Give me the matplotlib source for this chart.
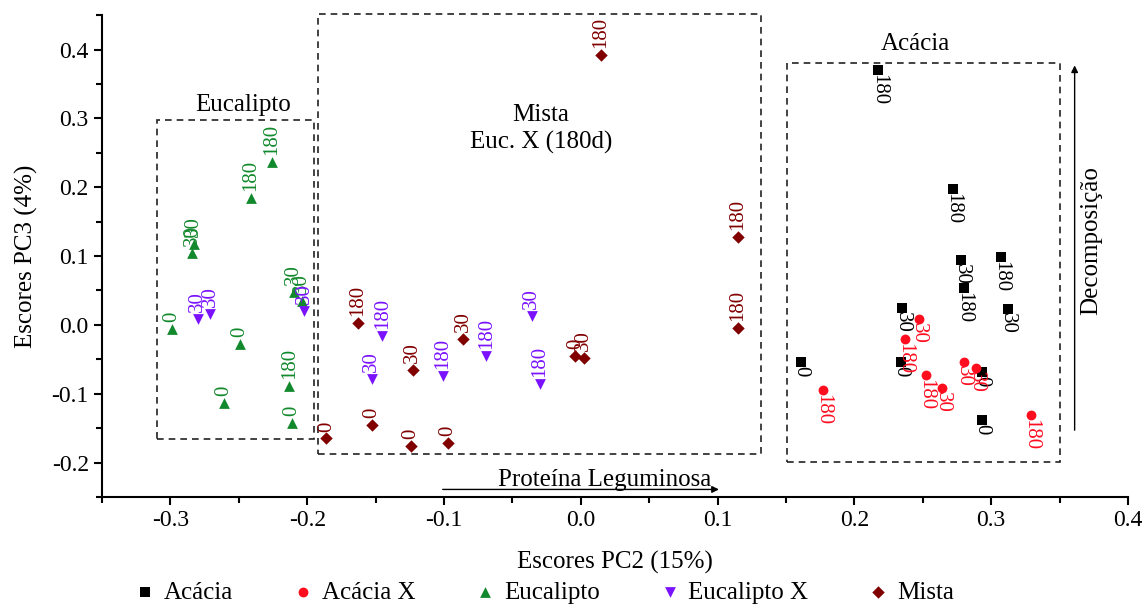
import numpy as np
import matplotlib
matplotlib.use('Agg')
import matplotlib.pyplot as plt
from matplotlib.patches import Rectangle
from matplotlib.ticker import MultipleLocator

plt.rcParams['font.family'] = ['Liberation Serif', 'DejaVu Serif']

## scores (PC2, PC3) and day labels
ac_x = [0.2175, 0.272, 0.278, 0.280, 0.307, 0.312, 0.235, 0.161, 0.234, 0.293, 0.293]
ac_y = [0.370, 0.198, 0.095, 0.054, 0.099, 0.023, 0.025, -0.054, -0.054, -0.068, -0.138]
ac_lab = ['180', '180', '30', '180', '180', '30', '30', '0', '0', '0', '0']

acx_x = [0.247, 0.237, 0.177, 0.252, 0.264, 0.280, 0.289, 0.329]
acx_y = [0.009, -0.020, -0.095, -0.073, -0.092, -0.054, -0.063, -0.131]
acx_lab = ['30', '180', '180', '180', '30', '30', '30', '180']

eu_x = [-0.283, -0.284, -0.241, -0.226, -0.299, -0.249, -0.261, -0.213, -0.211, -0.210, -0.204]
eu_y = [0.118, 0.104, 0.185, 0.236, -0.006, -0.028, -0.114, -0.089, -0.143, 0.048, 0.035]
eu_lab = ['30', '30', '180', '180', '0', '0', '0', '180', '0', '30', '30']

eux_x = [-0.280, -0.271, -0.202, -0.153, -0.145, -0.101, -0.069, -0.036, -0.030]
eux_y = [0.009, 0.016, 0.020, -0.079, -0.016, -0.074, -0.045, 0.013, -0.086]
eux_lab = ['30', '30', '30', '30', '180', '180', '180', '30', '180']

mi_x = [-0.186, -0.163, -0.153, -0.123, -0.124, -0.097, -0.086, -0.004, 0.002, 0.115, 0.115, 0.0146]
mi_y = [-0.165, 0.003, -0.146, -0.066, -0.176, -0.172, -0.020, -0.045, -0.048, -0.004, 0.128, 0.392]
mi_lab = ['0', '180', '0', '30', '0', '0', '30', '0', '30', '180', '180', '180']

fig = plt.figure(figsize=(11.44, 6.05), dpi=100)
ax = fig.add_axes([0.0892, 0.1785, 0.8968, 0.7965])

# (x, y, labels, name, marker, color, size, label goes up?)
series = [
    (ac_x, ac_y, ac_lab, 'Acácia', 's', 'black', 45, False),
    (acx_x, acx_y, acx_lab, 'Acácia X', 'o', '#ff0d1f', 50, False),
    (eu_x, eu_y, eu_lab, 'Eucalipto', '^', '#12892c', 60, True),
    (eux_x, eux_y, eux_lab, 'Eucalipto X', 'v', '#7a12ff', 60, True),
    (mi_x, mi_y, mi_lab, 'Mista', 'D', '#800000', 40, True),
]

for xs, ys, labs, name, mk, col, sz, up in series:
    ax.scatter(xs, ys, marker=mk, s=sz, color=col, linewidths=0, label=name, zorder=3)
    for x, y, t in zip(xs, ys, labs):
        if up:
            ax.annotate(t, (x, y), xytext=(0, 5), textcoords='offset points',
                        rotation=90, ha='center', va='bottom', color=col, fontsize=15)
        else:
            ax.annotate(t, (x, y), xytext=(0, -3), textcoords='offset points',
                        rotation=270, ha='center', va='top', color=col, fontsize=15)

# dashed group boxes
boxes = [(-0.3095, -0.166, 0.1145, 0.463),
         (-0.192, -0.188, 0.324, 0.639),
         (0.151, -0.199, 0.199, 0.579)]
for bx, by, bw, bh in boxes:
    ax.add_patch(Rectangle((bx, by), bw, bh, fill=False, ec='#222222', lw=1.2,
                           ls=(0, (4, 3)), clip_on=False, zorder=2))

ax.text(-0.247, 0.319, 'Eucalipto', ha='center', va='center', fontsize=18)
ax.text(-0.029, 0.285, 'Mista\nEuc. X (180d)', ha='center', va='center', fontsize=18,
        linespacing=1.3)
ax.text(0.2445, 0.408, 'Acácia', ha='center', va='center', fontsize=18)

ax.annotate('', xy=(0.103, -0.239), xytext=(-0.103, -0.239),
            arrowprops=dict(arrowstyle='-|>', lw=1, color='black', mutation_scale=10))
ax.text(0.0175, -0.225, 'Proteína Leguminosa', ha='center', va='center', fontsize=18)

ax.annotate('', xy=(0.361, 0.381), xytext=(0.361, -0.157),
            arrowprops=dict(arrowstyle='-|>', lw=1, color='black', mutation_scale=10),
            annotation_clip=False)
ax.text(0.373, 0.122, 'Decomposição', rotation=90, ha='center', va='center', fontsize=18)

ax.set_xlim(-0.35, 0.4)
ax.set_ylim(-0.25, 0.45)
ax.xaxis.set_major_locator(MultipleLocator(0.1))
ax.xaxis.set_minor_locator(MultipleLocator(0.05))
ax.yaxis.set_major_locator(MultipleLocator(0.1))
ax.yaxis.set_minor_locator(MultipleLocator(0.05))
ax.xaxis.set_major_formatter(matplotlib.ticker.FormatStrFormatter('%.1f'))
ax.yaxis.set_major_formatter(matplotlib.ticker.FormatStrFormatter('%.1f'))

ax.spines['top'].set_visible(False)
ax.spines['right'].set_visible(False)
ax.spines['left'].set_linewidth(1.5)
ax.spines['bottom'].set_linewidth(1.5)
ax.tick_params(which='major', direction='out', length=6, width=1.5, labelsize=17)
ax.tick_params(which='minor', direction='out', length=4, width=1.5)

ax.set_xlabel('Escores PC2 (15%)', fontsize=18, labelpad=14)
ax.set_ylabel('Escores PC3 (4%)', fontsize=18, labelpad=10)

fig.legend(*ax.get_legend_handles_labels(), loc='center', bbox_to_anchor=(0.476, 0.021),
           ncol=5, frameon=False, fontsize=18, handlelength=0.8, handletextpad=0.35,
           columnspacing=2.4, markerscale=1.0, borderaxespad=0, borderpad=0)

fig.savefig('out.png', dpi=100)
